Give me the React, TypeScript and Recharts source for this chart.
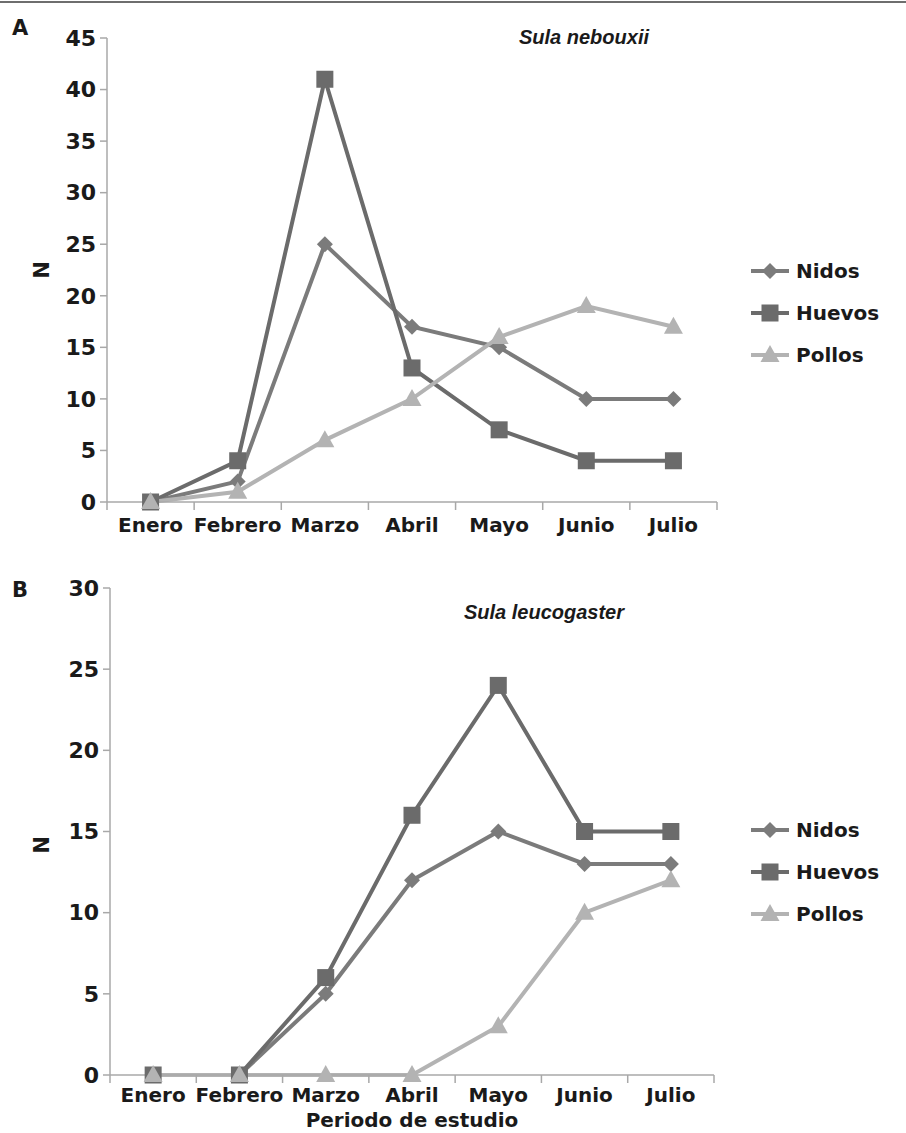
import { LineChart, Line, XAxis, YAxis } from "recharts";

const MESES = ["Enero", "Febrero", "Marzo", "Abril", "Mayo", "Junio", "Julio"];

// Sula nebouxii
const NIDOS_A = [0, 2, 25, 17, 15, 10, 10];
const HUEVOS_A = [0, 4, 41, 13, 7, 4, 4];
const POLLOS_A = [0, 1, 6, 10, 16, 19, 17];
const TICKS_A = [0, 5, 10, 15, 20, 25, 30, 35, 40, 45];

// Sula leucogaster
const NIDOS_B = [0, 0, 5, 12, 15, 13, 13];
const HUEVOS_B = [0, 0, 6, 16, 24, 15, 15];
const POLLOS_B = [0, 0, 0, 0, 3, 10, 12];
const TICKS_B = [0, 5, 10, 15, 20, 25, 30];

const SERIES = [
  { key: "nidos", name: "Nidos", color: "#7b7b7b", shape: "diamond" },
  { key: "huevos", name: "Huevos", color: "#6b6b6b", shape: "square" },
  { key: "pollos", name: "Pollos", color: "#b3b3b3", shape: "triangle" },
];

const FONT = "'DejaVu Sans', sans-serif";
const AXIS_COLOR = "#a8a8a8";

const buildData = (n: number[], h: number[], p: number[]) =>
  MESES.map((mes, i) => ({ mes, nidos: n[i], huevos: h[i], pollos: p[i] }));

const dataA = buildData(NIDOS_A, HUEVOS_A, POLLOS_A);
const dataB = buildData(NIDOS_B, HUEVOS_B, POLLOS_B);

function Marker({ cx, cy, shape, color }: any) {
  if (cx == null || cy == null) return null;
  if (shape === "square") {
    return <rect x={cx - 8.5} y={cy - 8.5} width={17} height={17} fill={color} />;
  }
  if (shape === "diamond") {
    return (
      <polygon
        points={`${cx},${cy - 8} ${cx + 8},${cy} ${cx},${cy + 8} ${cx - 8},${cy}`}
        fill={color}
      />
    );
  }
  return (
    <polygon
      points={`${cx},${cy - 10} ${cx + 9.5},${cy + 7} ${cx - 9.5},${cy + 7}`}
      fill={color}
    />
  );
}

function XTick(props: any) {
  const { x, y, payload, index, visibleTicksCount, labelGap } = props;
  const half = payload.offset || 0;
  const last = index === visibleTicksCount - 1;
  return (
    <g>
      <line x1={x - half} x2={x - half} y1={y - 8} y2={y} stroke={AXIS_COLOR} strokeWidth={1.5} />
      {last && (
        <line x1={x + half} x2={x + half} y1={y - 8} y2={y} stroke={AXIS_COLOR} strokeWidth={1.5} />
      )}
      <text
        x={x}
        y={y + (labelGap || 22)}
        textAnchor="middle"
        fontFamily={FONT}
        fontWeight="bold"
        fontSize={20}
        fill="#1a1a1a"
      >
        {payload.value}
      </text>
    </g>
  );
}

function LegendBox({ top }: any) {
  return (
    <div style={{ position: "absolute", left: 750, top }}>
      {SERIES.map((s) => (
        <div key={s.key} style={{ display: "flex", alignItems: "center", height: 42 }}>
          <svg width={40} height={20}>
            <line x1={1} x2={39} y1={10} y2={10} stroke={s.color} strokeWidth={4} />
            <Marker cx={20} cy={10} shape={s.shape} color={s.color} />
          </svg>
          <span
            style={{
              marginLeft: 6,
              fontFamily: FONT,
              fontWeight: "bold",
              fontSize: 20,
              color: "#1a1a1a",
            }}
          >
            {s.name}
          </span>
        </div>
      ))}
    </div>
  );
}

function Panel({ data, ticks, max, height, margin, xLabel }: any) {
  return (
    <LineChart width={906} height={height} data={data} margin={margin}>
      <XAxis
        dataKey="mes"
        scale="band"
        tick={<XTick labelGap={xLabel ? 19 : 22} />}
        tickLine={false}
        axisLine={{ stroke: AXIS_COLOR, strokeWidth: 1.5 }}
        interval={0}
        height={xLabel ? 58 : 40}
        label={
          xLabel
            ? {
                value: xLabel,
                position: "insideBottom",
                offset: 6,
                fontFamily: FONT,
                fontWeight: "bold",
                fontSize: 20,
                fill: "#1a1a1a",
              }
            : undefined
        }
      />
      <YAxis
        domain={[0, max]}
        ticks={ticks}
        interval={0}
        width={70}
        tickSize={7}
        tickMargin={4}
        tickLine={{ stroke: AXIS_COLOR, strokeWidth: 1.5 }}
        axisLine={{ stroke: AXIS_COLOR, strokeWidth: 1.5 }}
        tick={{ fontFamily: FONT, fontWeight: "bold", fontSize: 22, fill: "#1a1a1a" }}
      />
      {SERIES.map((s) => (
        <Line
          key={s.key}
          dataKey={s.key}
          name={s.name}
          stroke={s.color}
          strokeWidth={4}
          isAnimationActive={false}
          dot={(p: any) => (
            <Marker key={`${s.key}-${p.index}`} cx={p.cx} cy={p.cy} shape={s.shape} color={s.color} />
          )}
          activeDot={false}
        />
      ))}
    </LineChart>
  );
}

const labelStyle: any = {
  position: "absolute",
  fontFamily: FONT,
  fontWeight: "bold",
  fontSize: 21,
  color: "#1a1a1a",
  lineHeight: 1,
};

const titleStyle: any = {
  position: "absolute",
  fontFamily: "'Liberation Sans', Arial, sans-serif",
  fontWeight: "bold",
  fontStyle: "italic",
  fontSize: 20,
  color: "#1a1a1a",
  transform: "translate(-50%, -50%)",
  whiteSpace: "nowrap",
};

export default function App() {
  return (
    <div
      style={{
        position: "absolute",
        left: 0,
        top: 0,
        width: 906,
        height: 1133,
        background: "#fff",
        overflow: "hidden",
      }}
    >
      <div style={{ position: "absolute", left: 0, top: 1, width: 906, height: 2, background: "#6e6e6e" }} />

      <div style={{ position: "absolute", left: 0, top: 0 }}>
        <Panel
          data={dataA}
          ticks={TICKS_A}
          max={45}
          height={560}
          margin={{ top: 38, right: 189, left: 37, bottom: 18 }}
        />
      </div>
      <LegendBox top={250} />

      <div style={{ position: "absolute", left: 0, top: 560 }}>
        <Panel
          data={dataB}
          ticks={TICKS_B}
          max={30}
          height={573}
          margin={{ top: 28, right: 192, left: 40, bottom: 0 }}
          xLabel="Periodo de estudio"
        />
      </div>
      <LegendBox top={809} />

      <div style={{ ...labelStyle, left: 12, top: 18 }}>A</div>
      <div style={{ ...labelStyle, left: 12, top: 580 }}>B</div>
      <div style={{ ...labelStyle, left: 42, top: 270, transform: "translate(-50%, -50%) rotate(-90deg)" }}>N</div>
      <div style={{ ...labelStyle, left: 42, top: 845, transform: "translate(-50%, -50%) rotate(-90deg)" }}>N</div>

      <div style={{ ...titleStyle, left: 584, top: 37 }}>Sula nebouxii</div>
      <div style={{ ...titleStyle, left: 544, top: 612 }}>Sula leucogaster</div>
    </div>
  );
}
